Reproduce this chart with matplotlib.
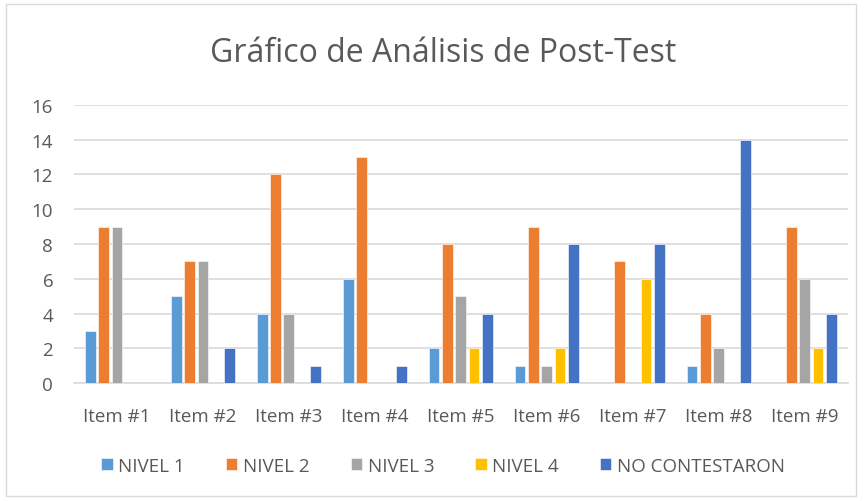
import numpy as np
import matplotlib.pyplot as plt
from matplotlib.patches import Rectangle

items = ["Item #1", "Item #2", "Item #3", "Item #4", "Item #5",
         "Item #6", "Item #7", "Item #8", "Item #9"]
series = ["NIVEL 1", "NIVEL 2", "NIVEL 3", "NIVEL 4", "NO CONTESTARON"]
nivel1 = [3, 5, 4, 6, 2, 1, 0, 1, 0]
nivel2 = [9, 7, 12, 13, 8, 9, 7, 4, 9]
nivel3 = [9, 7, 4, 0, 5, 1, 0, 2, 6]
nivel4 = [0, 0, 0, 0, 2, 2, 6, 0, 2]
no_contestaron = [0, 2, 1, 1, 4, 8, 8, 14, 4]
colors = ["#5B9BD5", "#ED7D31", "#A5A5A5", "#FFC000", "#4472C4"]

plt.rcParams['font.family'] = ['Open Sans', 'DejaVu Sans']
txt = "#595959"

fig = plt.figure(figsize=(8.64, 5.02), dpi=100)
fig.patches.append(Rectangle((6 / 864, 5 / 502), 850 / 864, 492 / 502,
                             transform=fig.transFigure, fill=False,
                             edgecolor="#d9d9d9", linewidth=1))
ax = fig.add_axes([0.0856, 0.235, 0.8954, 0.554])

x = np.arange(len(items))
pitch = 0.155
width = 0.125
data = [nivel1, nivel2, nivel3, nivel4, no_contestaron]
for i, (vals, name, c) in enumerate(zip(data, series, colors)):
    ax.bar(x + (i - 2) * pitch, vals, width, color=c, label=name,
           edgecolor="white", linewidth=0.4, zorder=3)

ax.set_xlim(-0.5, len(items) - 0.5)
ax.set_ylim(0, 16)
ax.set_yticks(range(0, 17, 2))
ax.set_xticks(x)
ax.set_xticklabels(items)
ax.tick_params(length=0, labelsize=13.5, colors=txt, pad=17)
ax.tick_params(axis='y', pad=15)
ax.grid(axis='y', color="#d9d9d9", linewidth=1.2, zorder=0)
for s in ["top", "right", "left"]:
    ax.spines[s].set_visible(False)
ax.spines["bottom"].set_color("#d9d9d9")
ax.spines["bottom"].set_linewidth(1.2)

fig.text(0.513, 0.893, "Gráfico de Análisis de Post-Test", ha="center",
         va="center", fontsize=23, color=txt)

fig.legend(loc="center", bbox_to_anchor=(0.513, 0.07), ncol=5, frameon=False,
           fontsize=13.5, labelcolor=txt, handlelength=0.6, handleheight=0.6,
           handletextpad=0.3, columnspacing=2.2)

fig.savefig("out.png", dpi=100)
